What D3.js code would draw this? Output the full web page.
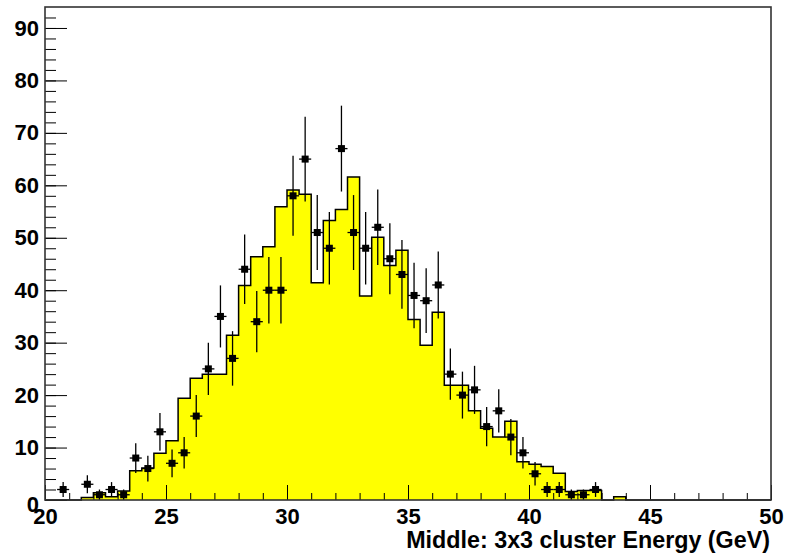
<!DOCTYPE html>
<html>
<head>
<meta charset="utf-8">
<script src="https://cdn.jsdelivr.net/npm/d3@7"></script>
<style>
  html, body { margin: 0; padding: 0; background: #fff; }
  svg { display: block; }
  text { font-family: "Liberation Sans", Arial, Helvetica, sans-serif; font-weight: bold; fill: #000; }
</style>
</head>
<body>
<svg id="chart" width="785" height="554"></svg>
<script>
// Histogram binning: 0.5 GeV bins from 20 to 50 GeV
const binLow = d3.range(20, 50, 0.5);
const binWidth = 0.5;

// Simulated expectation (filled histogram), one value per bin
const mcValues = [
  0, 0, 0, 0.5, 1.4, 0.6, 1.7, 5.6, 6.1, 8.9,
  11.3, 19.4, 23.2, 24.0, 24.0, 31.4, 40.9, 46.4, 48.3, 55.9,
  59.1, 58.3, 41.4, 53.3, 55.4, 61.6, 38.9, 50.1, 44.7, 47.6,
  34.4, 29.5, 35.8, 21.9, 21.9, 17.0, 13.7, 12.0, 15.0, 7.3,
  6.8, 6.4, 5.1, 1.6, 1.8, 1.8, 0, 0.6, 0, 0,
  0, 0, 0, 0, 0, 0, 0, 0, 0, 0
];

// Measured counts per bin (points with Poisson errors)
const dataCounts = [
  0, 2, 0, 3, 1, 2, 1, 8, 6, 13,
  7, 9, 16, 25, 35, 27, 44, 34, 40, 40,
  58, 65, 51, 48, 67, 51, 48, 52, 46, 43,
  39, 38, 41, 24, 20, 21, 14, 17, 12, 9,
  5, 2, 2, 1, 1, 2, 0, 0, 0, 0,
  0, 0, 0, 0, 0, 0, 0, 0, 0, 0
];

const xMajorTicks = [20, 25, 30, 35, 40, 45, 50];
const yMajorTicks = [0, 10, 20, 30, 40, 50, 60, 70, 80, 90];
const xTitle = "Middle: 3x3 cluster Energy (GeV)";

const svg = d3.select("#chart");
const frame = { left: 45, right: 771, top: 7, bottom: 500 };

const x = d3.scaleLinear().domain([20, 50]).range([frame.left, frame.right]);
const y = d3.scaleLinear().domain([0, 94]).range([frame.bottom, frame.top]);

// Filled MC histogram
const histPts = binLow.map((lo, i) => ({ x: lo, v: mcValues[i] }));
histPts.push({ x: 50, v: mcValues[mcValues.length - 1] });

const area = d3.area()
  .curve(d3.curveStepAfter)
  .x(d => x(d.x))
  .y0(y(0))
  .y1(d => y(d.v));
const outline = d3.line()
  .curve(d3.curveStepAfter)
  .x(d => x(d.x))
  .y(d => y(d.v));

svg.append("path")
  .datum(histPts)
  .attr("d", area)
  .attr("fill", "#ffff00")
  .attr("stroke", "none");
svg.append("path")
  .datum(histPts)
  .attr("d", outline)
  .attr("fill", "none")
  .attr("stroke", "#000")
  .attr("stroke-width", 1.5);

// Data points with error bars
const pts = binLow.map((lo, i) => ({ lo, c: dataCounts[i] })).filter(d => d.c > 0);
const g = svg.append("g").attr("class", "data");
pts.forEach(d => {
  const cx = x(d.lo + binWidth / 2);
  const cy = y(d.c);
  const err = Math.sqrt(d.c);
  g.append("line")
    .attr("x1", x(d.lo)).attr("x2", x(d.lo + binWidth))
    .attr("y1", cy).attr("y2", cy)
    .attr("stroke", "#000").attr("stroke-width", 1.3);
  g.append("line")
    .attr("x1", cx).attr("x2", cx)
    .attr("y1", y(d.c + err)).attr("y2", y(Math.max(0, d.c - err)))
    .attr("stroke", "#000").attr("stroke-width", 1.3);
  g.append("rect")
    .attr("x", cx - 3.5).attr("y", cy - 3.5)
    .attr("width", 7).attr("height", 7)
    .attr("fill", "#000");
});

// Axes: ticks drawn inward, labels outside
const xMinor = svg.append("g")
  .attr("transform", `translate(0,${frame.bottom})`)
  .call(d3.axisBottom(x).tickValues(d3.range(20, 51, 1)).tickSize(-7).tickFormat(""));
const xMajor = svg.append("g")
  .attr("transform", `translate(0,${frame.bottom})`)
  .call(d3.axisBottom(x).tickValues(xMajorTicks).tickSize(-15).tickPadding(8).tickFormat(d3.format("d")));

const yMinor = svg.append("g")
  .attr("transform", `translate(${frame.left},0)`)
  .call(d3.axisLeft(y).tickValues(d3.range(0, 94, 2)).tickSize(-11).tickFormat(""));
const yMajor = svg.append("g")
  .attr("transform", `translate(${frame.left},0)`)
  .call(d3.axisLeft(y).tickValues(yMajorTicks).tickSize(-22).tickPadding(6).tickFormat(d3.format("d")));

[xMinor, xMajor, yMinor, yMajor].forEach(a => {
  a.select(".domain").remove();
  a.selectAll(".tick line").attr("stroke", "#000").attr("stroke-width", 1);
  a.selectAll("text")
    .style("font-family", '"Liberation Sans", Arial, Helvetica, sans-serif')
    .style("font-weight", "bold")
    .style("font-size", "22px")
    .attr("fill", "#000");
});
// The zero label sits just below the corner
yMajor.selectAll(".tick").filter(d => d === 0).select("text").attr("dy", "0.5em");

// Frame
svg.append("rect")
  .attr("x", frame.left).attr("y", frame.top)
  .attr("width", frame.right - frame.left)
  .attr("height", frame.bottom - frame.top)
  .attr("fill", "none")
  .attr("stroke", "#333")
  .attr("stroke-width", 1.6);

// Axis title, right aligned
svg.append("text")
  .attr("x", 770)
  .attr("y", 548)
  .attr("text-anchor", "end")
  .style("font-size", "23.3px")
  .text(xTitle);
</script>
</body>
</html>
